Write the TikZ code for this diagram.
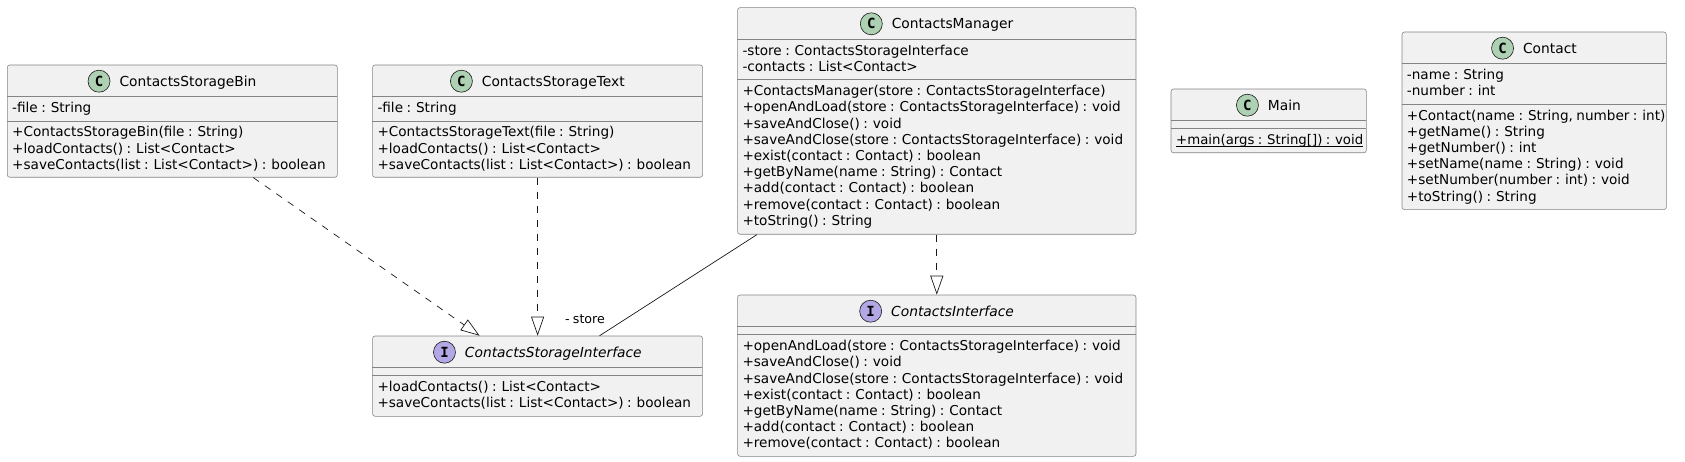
\documentclass[tikz,border=0pt]{standalone}
\usepackage{fontspec}
\setmainfont{DejaVu Sans}[ItalicFont={DejaVu Sans Oblique},BoldFont={DejaVu Sans Bold},WordSpace=0.8]
\newfontfamily\spotfont{DejaVu Sans Mono}[BoldFont={DejaVu Sans Mono Bold}]
\usepackage{tikz}
\usetikzlibrary{positioning, arrows.meta}

\definecolor{umlfill}{HTML}{F1F1F1}
\definecolor{umlline}{HTML}{181818}
\definecolor{umledge}{HTML}{858585}
\definecolor{spotgreen}{HTML}{ADD1B2}
\definecolor{spotpurple}{HTML}{B4A7E5}

\tikzset{
  classbox/.style={draw=umledge, fill=umlfill, line width=0.6pt, rounded corners=2.5pt, inner sep=0pt, anchor=north west},
  sepline/.style={draw=umledge, line width=0.6pt},
  member/.style={inner sep=0pt, anchor=base west, font=\fontsize{13.6pt}{16pt}\selectfont},
  classname/.style={inner sep=0pt, text height=10pt, text depth=0pt, font=\fontsize{13.8pt}{16pt}\selectfont},
  ifacename/.style={classname, font=\fontsize{13.8pt}{16pt}\selectfont\itshape},
  spotc/.style={circle, draw=umlline, fill=spotgreen, line width=0.6pt, minimum size=22pt, inner sep=0pt, font=\spotfont\bfseries\fontsize{14pt}{14pt}\selectfont},
  spoti/.style={spotc, fill=spotpurple},
  realize/.style={draw=umlline, line width=0.7pt, dash pattern=on 7pt off 7pt, -{Triangle[open, length=19pt, width=13pt]}},
  assoc/.style={draw=umlline, line width=0.7pt},
  lbl/.style={inner sep=0pt, anchor=base, font=\fontsize{12.6pt}{14pt}\selectfont},
}

\begin{document}
\begin{tikzpicture}[x=1pt, y=-1pt]
\useasboundingbox (0,0) rectangle (1685,462);

% ContactsStorageBin
\node[classbox, minimum width=330pt, minimum height=112.3pt] (bin) at (7,64.7) {};
\node[classname] (bintitle) at (188,81.2) {ContactsStorageBin};
\node[spotc, left=9pt of bintitle] (binspot) {C};
\draw[sepline] (7,96.7) -- (337,96.7);
\draw[sepline] (7,120.9) -- (337,120.9);
\node[member] (bina1) at (12,112.7) {-file : String};
\node[member] (binm1) at (12,136.9) {+ContactsStorageBin(file : String)};
\node[member] (binm2) at (12,153.1) {+loadContacts() : List<Contact>};
\node[member] (binm3) at (12,169.3) {+saveContacts(list : List<Contact>) : boolean};

% ContactsStorageText
\node[classbox, minimum width=330pt, minimum height=112.3pt] (txt) at (372.3,64.7) {};
\node[classname] (txttitle) at (553.3,81.2) {ContactsStorageText};
\node[spotc, left=9pt of txttitle] (txtspot) {C};
\draw[sepline] (372.3,96.7) -- (702.3,96.7);
\draw[sepline] (372.3,120.9) -- (702.3,120.9);
\node[member] (txta1) at (377.3,112.7) {-file : String};
\node[member] (txtm1) at (377.3,136.9) {+ContactsStorageText(file : String)};
\node[member] (txtm2) at (377.3,153.1) {+loadContacts() : List<Contact>};
\node[member] (txtm3) at (377.3,169.3) {+saveContacts(list : List<Contact>) : boolean};

% ContactsManager
\node[classbox, minimum width=398.4pt, minimum height=226.7pt] (mgr) at (737.3,7.3) {};
\node[classname] (mgrtitle) at (952.5,23.8) {ContactsManager};
\node[spotc, left=9pt of mgrtitle] (mgrspot) {C};
\draw[sepline] (737.3,39.3) -- (1135.7,39.3);
\draw[sepline] (737.3,79.7) -- (1135.7,79.7);
\node[member] (mgra1) at (742.3,55.3) {-store : ContactsStorageInterface};
\node[member] (mgra2) at (742.3,71.5) {-contacts : List<Contact>};
\node[member] (mgrm1) at (742.3,95.7) {+ContactsManager(store : ContactsStorageInterface)};
\node[member] (mgrm2) at (742.3,111.9) {+openAndLoad(store : ContactsStorageInterface) : void};
\node[member] (mgrm3) at (742.3,128.1) {+saveAndClose() : void};
\node[member] (mgrm4) at (742.3,144.3) {+saveAndClose(store : ContactsStorageInterface) : void};
\node[member] (mgrm5) at (742.3,160.5) {+exist(contact : Contact) : boolean};
\node[member] (mgrm6) at (742.3,176.7) {+getByName(name : String) : Contact};
\node[member] (mgrm7) at (742.3,192.9) {+add(contact : Contact) : boolean};
\node[member] (mgrm8) at (742.3,209.1) {+remove(contact : Contact) : boolean};
\node[member] (mgrm9) at (742.3,225.3) {+toString() : String};

% Main
\node[classbox, minimum width=195.3pt, minimum height=63.8pt] (main) at (1170.7,88.7) {};
\node[classname] (maintitle) at (1284.4,105.2) {Main};
\node[spotc, left=9pt of maintitle] (mainspot) {C};
\draw[sepline] (1170.7,120.7) -- (1366,120.7);
\draw[sepline] (1170.7,128.7) -- (1366,128.7);
\node[member, font=\fontsize{13.3pt}{16pt}\selectfont] (mainm1) at (1176,144.7) {+main(args : String[]) : void};
\draw[line width=0.6pt] ([yshift=-2pt]mainm1.base west) -- ([yshift=-2pt]mainm1.base east);

% Contact
\node[classbox, minimum width=264.3pt, minimum height=177.6pt] (contact) at (1401.7,31.7) {};
\node[classname] (contacttitle) at (1549.9,48.2) {Contact};
\node[spotc, left=9pt of contacttitle] (contactspot) {C};
\draw[sepline] (1401.7,63.7) -- (1666,63.7);
\draw[sepline] (1401.7,104.1) -- (1666,104.1);
\node[member] (contacta1) at (1406.7,79.7) {-name : String};
\node[member] (contacta2) at (1406.7,95.9) {-number : int};
\node[member] (contactm1) at (1406.7,120.1) {+Contact(name : String, number : int)};
\node[member] (contactm2) at (1406.7,136.3) {+getName() : String};
\node[member] (contactm3) at (1406.7,152.5) {+getNumber() : int};
\node[member] (contactm4) at (1406.7,168.7) {+setName(name : String) : void};
\node[member] (contactm5) at (1406.7,184.9) {+setNumber(number : int) : void};
\node[member] (contactm6) at (1406.7,201.1) {+toString() : String};

% ContactsStorageInterface
\node[classbox, minimum width=330pt, minimum height=80.3pt] (csi) at (372.3,335.7) {};
\node[ifacename] (csititle) at (553.3,352.2) {ContactsStorageInterface};
\node[spoti, left=9pt of csititle] (csispot) {I};
\draw[sepline] (372.3,367.7) -- (702.3,367.7);
\draw[sepline] (372.3,375.7) -- (702.3,375.7);
\node[member] (csim1) at (377.3,391.7) {+loadContacts() : List<Contact>};
\node[member] (csim2) at (377.3,407.9) {+saveContacts(list : List<Contact>) : boolean};

% ContactsInterface
\node[classbox, minimum width=398.4pt, minimum height=161.3pt] (ci) at (737.3,294.7) {};
\node[ifacename] (cititle) at (952.5,311.2) {ContactsInterface};
\node[spoti, left=9pt of cititle] (cispot) {I};
\draw[sepline] (737.3,326.7) -- (1135.7,326.7);
\draw[sepline] (737.3,334.7) -- (1135.7,334.7);
\node[member] (cim1) at (742.3,350.7) {+openAndLoad(store : ContactsStorageInterface) : void};
\node[member] (cim2) at (742.3,366.9) {+saveAndClose() : void};
\node[member] (cim3) at (742.3,383.1) {+saveAndClose(store : ContactsStorageInterface) : void};
\node[member] (cim4) at (742.3,399.3) {+exist(contact : Contact) : boolean};
\node[member] (cim5) at (742.3,415.5) {+getByName(name : String) : Contact};
\node[member] (cim6) at (742.3,431.7) {+add(contact : Contact) : boolean};
\node[member] (cim7) at (742.3,447.9) {+remove(contact : Contact) : boolean};

% relations
\draw[realize] ([xshift=81pt]bin.south) -- ([xshift=-58pt]csi.north);
\draw[realize] (txt.south) -- (csi.north);
\draw[realize] (mgr.south) -- (ci.north);
\draw[assoc] ([xshift=-179.8pt]mgr.south) -- ([xshift=62pt]csi.north);
\node[lbl] (storelbl) at (585,323.6) {- store};
\end{tikzpicture}
\end{document}
